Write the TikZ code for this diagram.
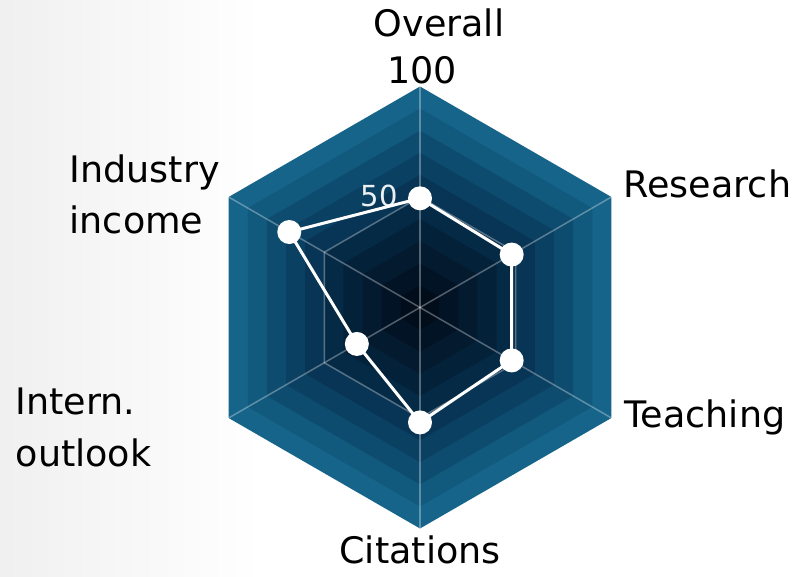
\documentclass[tikz,border=0pt]{standalone}
\usepackage{fontspec}
\setmainfont{DejaVu Sans}
\usetikzlibrary{calc}
\definecolor{band10}{RGB}{22,100,138}
\definecolor{band9}{RGB}{17,89,125}
\definecolor{band8}{RGB}{13,76,111}
\definecolor{band7}{RGB}{10,64,98}
\definecolor{band6}{RGB}{8,53,85}
\definecolor{band5}{RGB}{5,42,70}
\definecolor{band4}{RGB}{4,33,58}
\definecolor{band3}{RGB}{3,26,47}
\definecolor{band2}{RGB}{2,19,37}
\definecolor{band1}{RGB}{1,13,27}
\definecolor{labelc}{RGB}{0,0,0}
\begin{document}
\begin{tikzpicture}[x=1pt,y=1pt,
  lbl/.style={inner sep=0pt, text=labelc, font=\fontsize{36.5}{42}\selectfont},
  gridline/.style={draw=white, draw opacity=0.32, line width=1.5pt},
  dataline/.style={draw=white, line width=3pt, line join=round},
  dot/.style={circle, fill=white, inner sep=0pt, minimum size=24pt}]
\useasboundingbox (0,0) rectangle (808,577);
% background
\fill[white] (0,0) rectangle (808,577);
\shade[left color=black!6, right color=white] (0,0) rectangle (260,577);
\coordinate (c) at (420,269.5);
\def\R{221}
% bands
\foreach \k in {10,...,1}{
  \pgfmathsetmacro\r{\R*\k/10}
  \fill[fill=band\k, shift={(c)}] (90:\r) -- (30:\r) -- (-30:\r) -- (-90:\r) -- (210:\r) -- (150:\r) -- cycle;
}
% axis end coordinates
\foreach \a/\n in {90/o1,30/o2,-30/o3,-90/o4,210/o5,150/o6}{
  \coordinate (\n) at ($(c)+(\a:\R)$);
  \coordinate (h\n) at ($(c)+(\a:\R/2)$);
}
% grid
\foreach \n in {o1,o2,o3,o4,o5,o6}{ \draw[gridline] (c) -- (\n); }
\draw[gridline] (ho1) -- (ho2) -- (ho3) -- (ho4) -- (ho5) -- (ho6) -- cycle;
% scale labels
\node[lbl, anchor=base east, text=white, text opacity=0.92, font=\fontsize{29}{34}\selectfont] (fifty) at (398,370.3) {50};
\node[lbl, anchor=base] (hundred) at (422,493.7) {100};
% data
\coordinate (d1) at ($(c)+(90:0.494*\R)$);
\coordinate (d2) at ($(c)+(30:0.479*\R)$);
\coordinate (d3) at ($(c)+(-30:0.479*\R)$);
\coordinate (d4) at ($(c)+(-90:0.52*\R)$);
\coordinate (d5) at ($(c)+(210:0.33*\R)$);
\coordinate (d6) at ($(c)+(150:0.683*\R)$);
\draw[dataline] (d1) -- (d2) -- (d3) -- (d4) -- (d5) -- (d6) -- cycle;
\foreach \n in {1,...,6}{ \node[dot] (p\n) at (d\n) {}; }
% axis labels
\node[lbl, anchor=base] (overall) at (439,540.3) {Overall};
\node[lbl, anchor=base west] (research) at (623.5,379.7) {Research};
\node[lbl, anchor=base west] (teaching) at (624.5,149.7) {Teaching};
\node[lbl, anchor=base] (citations) at (420,13.7) {Citations};
\node[lbl, anchor=base west] (industry) at (69.5,394.3) {Industry};
\node[lbl, anchor=base west] (income) at (69.5,343) {income};
\node[lbl, anchor=base west] (intern) at (15.5,162.7) {Intern.};
\node[lbl, anchor=base west] (outlook) at (15.5,110) {outlook};
\end{tikzpicture}
\end{document}
